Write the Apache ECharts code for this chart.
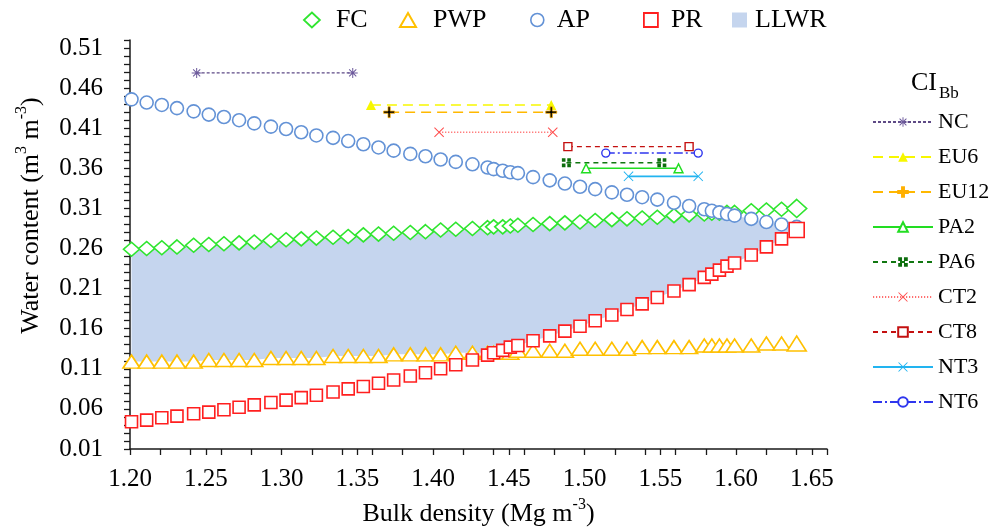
<!DOCTYPE html>
<html><head><meta charset="utf-8">
<script src="https://cdn.jsdelivr.net/npm/echarts@6/dist/echarts.min.js"></script>
<style>html,body{margin:0;padding:0;background:#fff}#c{width:992px;height:528px}</style>
</head><body><div id="c"></div>
<script>
// ---------- data ----------
const bulkDensity = [1.201,1.211,1.221,1.231,1.242,1.252,1.262,1.272,1.282,1.293,1.303,1.313,1.323,1.334,1.344,1.354,1.364,1.374,1.385,1.395,1.405,1.415,1.426,1.436,1.440,1.446,1.451,1.456,1.466,1.477,1.487,1.497,1.507,1.518,1.528,1.538,1.548,1.559,1.569,1.579,1.584,1.589,1.594,1.599,1.610,1.620,1.630,1.640];
const fc  = [0.259,0.260,0.261,0.262,0.264,0.265,0.266,0.267,0.268,0.270,0.271,0.272,0.273,0.274,0.275,0.277,0.278,0.279,0.280,0.281,0.283,0.284,0.285,0.286,0.287,0.287,0.288,0.289,0.290,0.291,0.292,0.293,0.295,0.296,0.297,0.298,0.299,0.301,0.302,0.303,0.304,0.304,0.305,0.305,0.307,0.308,0.309,0.310];
const pwp = [0.119,0.119,0.119,0.119,0.119,0.121,0.121,0.121,0.121,0.1235,0.1235,0.1235,0.1235,0.126,0.126,0.126,0.126,0.128,0.128,0.128,0.128,0.130,0.130,0.130,0.130,0.130,0.130,0.1325,0.1325,0.1325,0.1325,0.135,0.135,0.135,0.135,0.137,0.137,0.137,0.137,0.139,0.139,0.139,0.139,0.139,0.139,0.1415,0.1415,0.1415];
const ap  = [0.446,0.442,0.439,0.435,0.431,0.427,0.424,0.420,0.416,0.412,0.409,0.405,0.401,0.398,0.394,0.390,0.386,0.382,0.378,0.375,0.371,0.368,0.365,0.361,0.359,0.357,0.355,0.354,0.349,0.345,0.341,0.337,0.334,0.330,0.327,0.324,0.321,0.317,0.313,0.309,0.307,0.305,0.303,0.301,0.297,0.293,0.290,0.287];
const pr  = [0.044,0.046,0.049,0.051,0.054,0.056,0.059,0.062,0.065,0.068,0.071,0.074,0.077,0.081,0.085,0.088,0.092,0.096,0.101,0.105,0.110,0.115,0.121,0.127,0.130,0.133,0.137,0.139,0.145,0.151,0.157,0.163,0.170,0.177,0.184,0.191,0.199,0.207,0.215,0.224,0.228,0.233,0.238,0.242,0.252,0.262,0.272,0.283];

// confidence intervals of bulk density per treatment
const ciNames = ['NC','EU6','EU12','PA2','PA6','CT2','CT8','NT3','NT6'];
const ciLow   = [1.244,1.359,1.371,1.501,1.488,1.404,1.489,1.529,1.514];
const ciHigh  = [1.347,1.478,1.478,1.562,1.551,1.479,1.569,1.575,1.575];
const ciLevel = [0.479,0.439,0.430,0.360,0.367,0.405,0.387,0.350,0.379];

// axis ticks
const xTickLabels = [1.20,1.25,1.30,1.35,1.40,1.45,1.50,1.55,1.60,1.65];
const xMinorTicks = [1.20,1.22,1.24,1.25,1.26,1.28,1.30,1.32,1.34,1.35,1.36,1.38,1.40,1.42,1.44,1.45,1.46,1.48,1.50,1.52,1.54,1.55,1.56,1.58,1.60,1.62,1.64,1.65,1.66];
const yTickLabels = [0.01,0.06,0.11,0.16,0.21,0.26,0.31,0.36,0.41,0.46,0.51];
const yMinorTicks = [0.01,0.02,0.03,0.04,0.05,0.06,0.07,0.08,0.09,0.10,0.11,0.12,0.13,0.14,0.15,0.16,0.17,0.18,0.19,0.20,0.21,0.22,0.23,0.24,0.25,0.26,0.27,0.28,0.29,0.30,0.31,0.32,0.33,0.34,0.35,0.36,0.37,0.38,0.39,0.40,0.41,0.42,0.43,0.44,0.45,0.46,0.47,0.48,0.49,0.50,0.51,0.52];

// ---------- styling ----------
const FONT = 'Liberation Serif';
const C_FC = '#2fe52f', C_PWP = '#ffc000', C_AP = '#6392d6', C_PR = '#ff1f1f', C_LLWR = '#c5d5ee';
const P_AST = 'path://M9,0h2v20h-2z M0,9h20v2h-20z M2.2,3.6l1.4,-1.4l14.2,14.2l-1.4,1.4z M16.4,2.2l1.4,1.4l-14.2,14.2l-1.4,-1.4z';
const P_PLUS = 'path://M8,0h4v8h8v4h-8v8h-4v-8h-8v-4h8z';
const P_CROSS = 'path://M0,1.4l1.4,-1.4l8.6,8.6l8.6,-8.6l1.4,1.4l-8.6,8.6l8.6,8.6l-1.4,1.4l-8.6,-8.6l-8.6,8.6l-1.4,-1.4l8.6,-8.6z';
const P_QUAD = 'path://M0,0h8v8h-8z M12,0h8v8h-8z M0,12h8v8h-8z M12,12h8v8h-8z';
const ciStyle = {
  NC:  {color:'#5e4a86', type:[3,2], width:1.2, symbol:P_AST, size:10, fill:'#6d5a9c'},
  EU6: {color:'#f7f700', type:[10,6], width:1.6, symbol:'triangle', size:10, fill:'#f7f700'},
  EU12:{color:'#ffb800', type:[10,6], width:1.6, symbol:P_PLUS, size:11, fill:'#000', border:'#ffb000', bw:0.8},
  PA2: {color:'#22dd22', type:'solid', width:1.6, symbol:'triangle', size:9, fill:'#fff', border:'#22dd22', bw:1.4},
  PA6: {color:'#117711', type:[5,4], width:1.4, symbol:P_QUAD, size:9, fill:'#0d6d0d'},
  CT2: {color:'#ff7070', type:[1.2,1.8], width:1.3, symbol:P_CROSS, size:10, fill:'#ff4d4d'},
  CT8: {color:'#c41010', type:[5,4], width:1.4, symbol:'rect', size:8, fill:'#fff', border:'#c41010', bw:1.4},
  NT3: {color:'#22b4f0', type:'solid', width:1.6, symbol:P_CROSS, size:10, fill:'#22b4f0'},
  NT6: {color:'#2f36ee', type:[9,3,2,3], width:1.5, symbol:'circle', size:8, fill:'#fff', border:'#2f36ee', bw:1.4}
};

const last = bulkDensity.length - 1;
function pts(arr){ return bulkDensity.map((x,i)=>[x, arr[i]]); }
function scatter(name, arr, symbol, size, bigSize, color, z){
  return {
    type:'scatter', name, data:pts(arr), symbol,
    symbolSize:(v,p)=> p.dataIndex===last ? bigSize : size,
    itemStyle:{color:'#fff', borderColor:color, borderWidth:1.6, opacity:1},
    z, silent:true
  };
}

const llwrUpper = bulkDensity.map((x,i)=>Math.min(fc[i], ap[i]));
const llwrLower = bulkDensity.map((x,i)=>Math.max(pwp[i], pr[i]));

const series = [
  {
    type:'custom', name:'LLWR', coordinateSystem:'cartesian2d',
    data: bulkDensity.map((x,i)=>[x, llwrUpper[i], llwrLower[i]]),
    encode:{x:0, y:[1,2]},
    itemStyle:{color:C_LLWR},
    renderItem:(params, api)=>{
      if (params.dataIndex !== 0) return null;
      const poly = [];
      for (let i=0;i<bulkDensity.length;i++) if (llwrUpper[i] >= llwrLower[i]) poly.push(api.coord([bulkDensity[i], llwrUpper[i]]));
      for (let i=bulkDensity.length-1;i>=0;i--) if (llwrUpper[i] >= llwrLower[i]) poly.push(api.coord([bulkDensity[i], llwrLower[i]]));
      return {type:'polygon', shape:{points:poly}, style:{fill:C_LLWR, stroke:null}};
    },
    z:1, silent:true
  },
  scatter('FC', fc, 'diamond', [16,14], [20,18], C_FC, 2),
  scatter('PWP', pwp, 'triangle', [17,13], [19,15], C_PWP, 3),
  scatter('AP', ap, 'circle', 13, 13, C_AP, 4),
  scatter('PR', pr, 'rect', 12, 15, C_PR, 5)
];

ciNames.forEach((n,k)=>{
  const s = ciStyle[n];
  series.push({
    type:'line', name:n,
    data:[[ciLow[k], ciLevel[k]], [ciHigh[k], ciLevel[k]]],
    symbol:s.symbol, symbolSize:s.size, showSymbol:true,
    lineStyle:{color:s.color, width:s.width, type:s.type},
    itemStyle:{color:s.fill, borderColor:s.border || s.fill, borderWidth:s.border ? s.bw : 0},
    z:6, silent:true
  });
});

const legendText = {fontFamily:FONT, fontSize:26, color:'#000'};
function topLegend(name, left, pad, icon, w, h, itemStyle){
  return {
    data:[{name, icon, itemStyle}], left, top:7, padding:0, itemWidth:w, itemHeight:h,
    textStyle:Object.assign({padding:[0,0,0,pad]}, legendText), selectedMode:false
  };
}

const option = {
  animation:false,
  backgroundColor:'#fff',
  grid:{left:130, right:165, top:40, bottom:79, containLabel:false, outerBoundsMode:'none'},
  legend:[
    topLegend('FC', 303, 11, 'diamond', 16, 15, {color:'#fff', borderColor:C_FC, borderWidth:1.8}),
    topLegend('PWP', 399, 12, 'triangle', 16, 14, {color:'#fff', borderColor:C_PWP, borderWidth:2}),
    topLegend('AP', 530, 8, 'circle', 13, 13, {color:'#fff', borderColor:C_AP, borderWidth:1.6}),
    topLegend('PR', 643, 8, 'rect', 14, 14, {color:'#fff', borderColor:C_PR, borderWidth:1.8}),
    topLegend('LLWR', 732, 3, 'rect', 15, 15, {color:C_LLWR, borderWidth:0}),
    {
      data:ciNames, orient:'vertical', left:872, top:111, padding:0,
      itemWidth:60, itemHeight:12, itemGap:13,
      textStyle:{fontFamily:FONT, fontSize:22, color:'#000', lineHeight:22},
      selectedMode:false
    }
  ],
  graphic:[
    {type:'text', left:911, top:70, style:{text:'CI', font:'26px "Liberation Serif"', fill:'#000'}},
    {type:'text', left:939, top:85, style:{text:'Bb', font:'17px "Liberation Serif"', fill:'#000'}}
  ],
  xAxis:{
    type:'value', min:1.20, max:1.66,
    name:'{n|Bulk density (Mg m}{s|-3}{n|)}', nameLocation:'middle', nameGap:44,
    nameTextStyle:{rich:{n:{fontFamily:FONT, fontSize:26, color:'#000', lineHeight:30, verticalAlign:'bottom'}, s:{fontFamily:FONT, fontSize:16, color:'#000', lineHeight:30, verticalAlign:'top', padding:[0,0,14,0]}}},
    splitLine:{show:false},
    axisLine:{onZero:false, lineStyle:{color:'#1a1a1a', width:1.5}},
    axisTick:{show:true, inside:false, length:6, customValues:xMinorTicks, lineStyle:{color:'#1a1a1a', width:1.3}},
    axisLabel:{customValues:xTickLabels, formatter:v=>v.toFixed(2), margin:18, fontFamily:FONT, fontSize:25, color:'#000'}
  },
  yAxis:{
    type:'value', min:0.01, max:0.52,
    name:'{n|Water content (m}{s|3}{n| m}{s|-3}{n|)}', nameLocation:'middle', nameGap:86, nameRotate:90,
    nameTextStyle:{padding:[0,0,0,58], rich:{n:{fontFamily:FONT, fontSize:26, color:'#000', lineHeight:30, verticalAlign:'bottom'}, s:{fontFamily:FONT, fontSize:16, color:'#000', lineHeight:30, verticalAlign:'top', padding:[0,0,14,0]}}},
    splitLine:{show:false},
    axisLine:{onZero:false, lineStyle:{color:'#1a1a1a', width:1.5}},
    axisTick:{show:true, inside:false, length:6, customValues:yMinorTicks, lineStyle:{color:'#1a1a1a', width:1.3}},
    axisLabel:{customValues:yTickLabels, formatter:v=>v.toFixed(2), margin:27, fontFamily:FONT, fontSize:25, color:'#000'}
  },
  series
};

const chart = echarts.init(document.getElementById('c'), null, {renderer:'canvas'});
chart.setOption(option);
</script></body></html>
